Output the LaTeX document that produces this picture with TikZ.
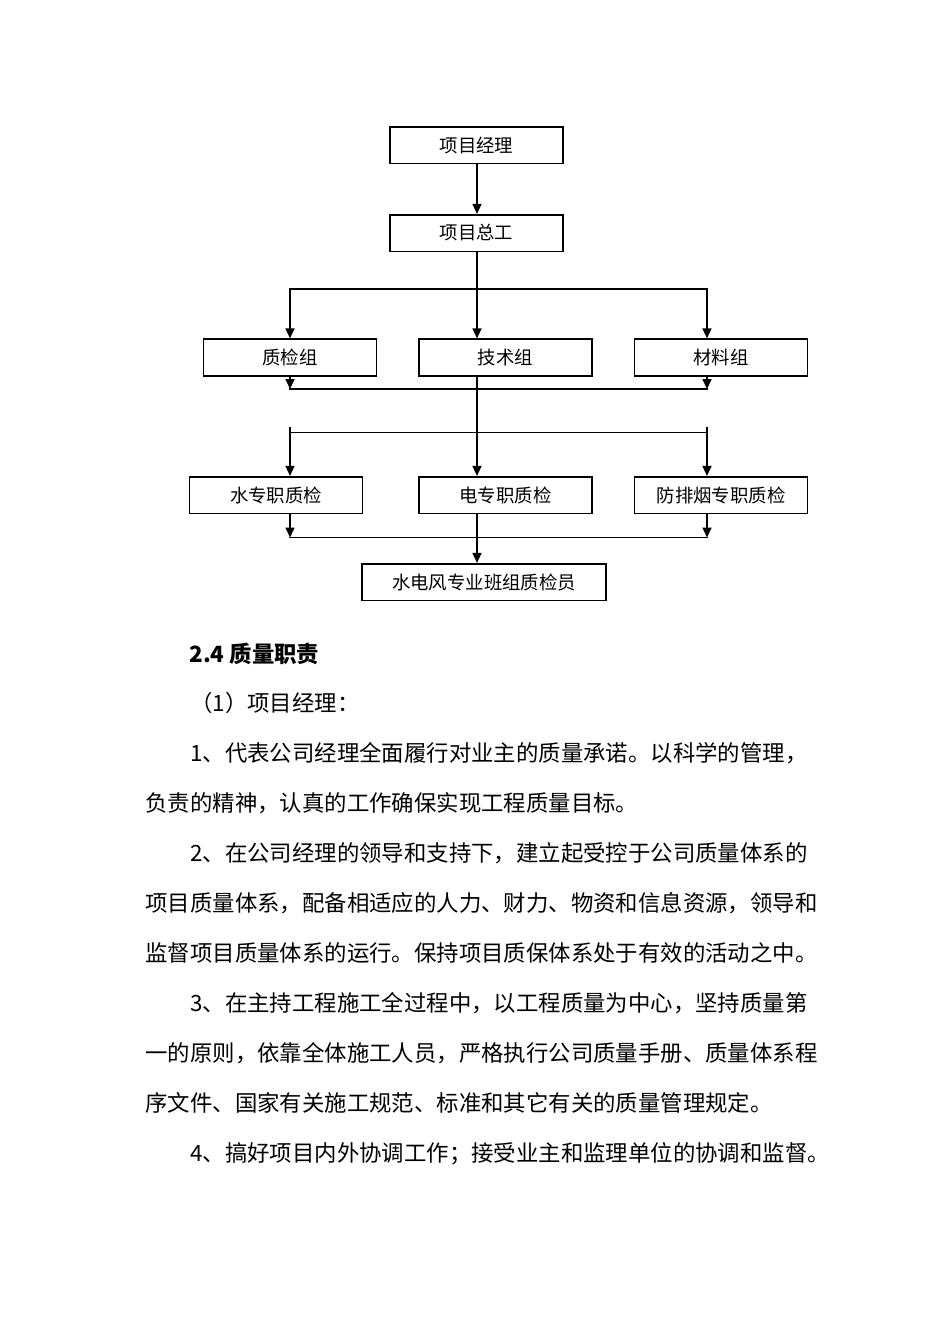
\documentclass[tikz,border=0pt]{standalone}
\usepackage{fontspec}
\newfontfamily\cjk{Noto Sans CJK SC}
\usetikzlibrary{arrows.meta}
\begin{document}
\begin{tikzpicture}[x=0.5pt,y=-0.5pt,
	box/.style={draw,line width=0.8pt,minimum width=86.5pt,minimum height=18.3pt,inner sep=0pt,font=\cjk\fontsize{9.2}{11}\selectfont},
	arr/.style={line width=0.8pt,-{Triangle[length=5pt,width=4.5pt]}},
	bar/.style={line width=0.8pt,line cap=rect},
	para/.style={anchor=base west,inner sep=0pt,font=\cjk\fontsize{11.2}{13}\selectfont}]

	\useasboundingbox[fill=white] (0,0) rectangle (950,1344);

	\node[box] (pm) at (476.5,145) {项目经理};
	\node[box] (ce) at (476.5,233) {项目总工};

	\node[box] (zjz) at (290,357.5) {质检组};
	\node[box] (jsz) at (505.5,357.5) {技术组};
	\node[box] (clz) at (721,357.5) {材料组};

	\node[box] (szj) at (276,495) {水专职质检};
	\node[box] (dzj) at (505.5,495) {电专职质检};
	\node[box] (fpy) at (721,495) {防排烟专职质检};

	\node[box,minimum width=122pt] (bzy) at (484,582) {水电风专业班组质检员};

	\coordinate (cl) at (290,0);
	\coordinate (cm) at (477,0);
	\coordinate (cr) at (707,0);
	\coordinate (b1) at (0,289);
	\coordinate (b2) at (0,389);
	\coordinate (b3t) at (0,427);
	\coordinate (b3) at (0,432.5);
	\coordinate (b4) at (0,537.5);

	\draw[arr] (cm |- pm.south) -- (cm |- ce.north);
	\draw[arr] (cm |- ce.south) -- (cm |- jsz.north);
	\draw[bar] (cl |- b1) -- (cr |- b1);
	\draw[arr] (cl |- b1) -- (cl |- zjz.north);
	\draw[arr] (cr |- b1) -- (cr |- clz.north);

	\draw[arr] (cl |- zjz.south) -- (cl |- b2);
	\draw[arr] (cr |- clz.south) -- (cr |- b2);
	\draw[bar] (cl |- b2) -- (cr |- b2);
	\draw[arr] (cm |- jsz.south) -- (cm |- dzj.north);

	\draw[bar] (cl |- b3) -- (cr |- b3);
	\draw[arr] (cl |- b3t) -- (cl |- szj.north);
	\draw[arr] (cr |- b3t) -- (cr |- fpy.north);

	\draw[arr] (cl |- szj.south) -- (cl |- b4);
	\draw[arr] (cr |- fpy.south) -- (cr |- b4);
	\draw[bar] (cl |- b4) -- (cr |- b4);
	\draw[arr] (cm |- dzj.south) -- (cm |- bzy.north);

	\node[para,font=\cjk\bfseries\fontsize{11.2}{13}\selectfont] (hd) at (189,662) {2.4 质量职责};
	\node[para] (t0) at (189.8,711) {（1）项目经理：};
	\node[para] (t1) at (189.8,761) {1、代表公司经理全面履行对业主的质量承诺。以科学的管理，};
	\node[para] (t2) at (145,811) {负责的精神，认真的工作确保实现工程质量目标。};
	\node[para] (t3) at (189.8,861) {2、在公司经理的领导和支持下，建立起受控于公司质量体系的};
	\node[para] (t4) at (145,911) {项目质量体系，配备相适应的人力、财力、物资和信息资源，领导和};
	\node[para] (t5) at (145,961) {监督项目质量体系的运行。保持项目质保体系处于有效的活动之中。};
	\node[para] (t6) at (189.8,1011) {3、在主持工程施工全过程中，以工程质量为中心，坚持质量第};
	\node[para] (t7) at (145,1061) {一的原则，依靠全体施工人员，严格执行公司质量手册、质量体系程};
	\node[para] (t8) at (145,1111) {序文件、国家有关施工规范、标准和其它有关的质量管理规定。};
	\node[para] (t9) at (189.8,1161) {4、搞好项目内外协调工作；接受业主和监理单位的协调和监督。};
\end{tikzpicture}
\end{document}
